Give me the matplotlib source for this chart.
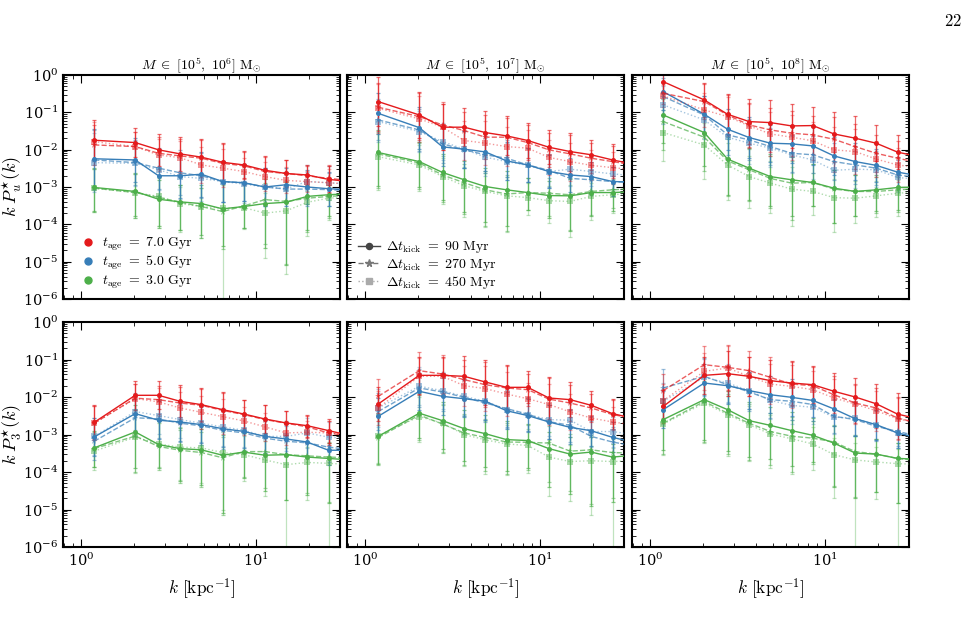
import numpy as np
import matplotlib.pyplot as plt
from matplotlib.lines import Line2D

plt.rcParams['mathtext.fontset'] = 'cm'
plt.rcParams['font.family'] = 'serif'
plt.rcParams['font.serif'] = ['DejaVu Serif']

# wavenumber bins (last one sits just outside the plotted range)
k = [1.19, 2.04, 2.77, 3.68, 4.86, 6.42, 8.48, 11.2, 14.8, 19.5, 25.8, 34.0]

ages = ['7.0', '5.0', '3.0']
kicks = [90, 270, 450]
mass_hi = [6, 7, 8]

# ---- top row: k P_u*(k) ; each colour holds (90, 270, 450 Myr) ----
u6_red = [[0.0179, 0.0155, 0.0099, 0.0077, 0.0063, 0.0046, 0.0039, 0.0028, 0.0023, 0.0021, 0.0016, 0.0014],
          [0.0134, 0.0121, 0.0080, 0.0068, 0.0059, 0.0043, 0.0037, 0.0026, 0.0023, 0.0020, 0.0017, 0.0015],
          [0.0164, 0.0121, 0.0072, 0.0061, 0.0039, 0.0032, 0.0026, 0.0019, 0.0015, 0.0014, 0.0013, 0.0012]]
u6_blue = [[0.0057, 0.0053, 0.0020, 0.0020, 0.0022, 0.0014, 0.0013, 0.0010, 0.00115, 0.0010, 0.0009, 0.00085],
           [0.0053, 0.0045, 0.0032, 0.0024, 0.0020, 0.0014, 0.0013, 0.0010, 0.00088, 0.00088, 0.00085, 0.0008],
           [0.0045, 0.0043, 0.0029, 0.0019, 0.0017, 0.0014, 0.0012, 0.0010, 0.0009, 0.0014, 0.0013, 0.0012]]
u6_green = [[0.00097, 0.00076, 0.00047, 0.0004, 0.00036, 0.00026, 0.0003, 0.00036, 0.00039, 0.00056, 0.00062, 0.00066],
            [0.00093, 0.00071, 0.00053, 0.00039, 0.0003, 0.00022, 0.00031, 0.00046, 0.00041, 0.0005, 0.00056, 0.0006],
            [0.00093, 0.00071, 0.00056, 0.00036, 0.0003, 0.00027, 0.00028, 0.0002, 0.00023, 0.00039, 0.0005, 0.00055]]
u6_err_red = [0.53, 0.38, 0.43, 0.46, 0.49, 0.51, 0.36, 0.39, 0.35, 0.27, 0.36]
u6_err_blue = [0.8, 0.6, 0.55, 0.6, 0.6, 0.55, 0.5, 0.5, 0.45, 0.45, 0.45]
u6_hi_green = [0.52, 0.49, 0.52, 0.45, 0.5, 0.7, 0.62, 0.55, 0.55, 0.31, 0.25]
u6_lo_green = [0.64, 0.67, 0.78, 0.75, 0.83, 1.0, 0.58, 1.19, 1.68, 0.9, 0.58]
u6_drop = [5]

u7_red = [[0.194, 0.085, 0.040, 0.040, 0.0287, 0.0234, 0.0176, 0.0116, 0.0089, 0.0073, 0.0053, 0.0041],
          [0.137, 0.077, 0.046, 0.0325, 0.0216, 0.0216, 0.0155, 0.0099, 0.0077, 0.0059, 0.0048, 0.0039],
          [0.128, 0.067, 0.040, 0.0176, 0.0149, 0.0121, 0.011, 0.0062, 0.0048, 0.0038, 0.0033, 0.0029]]
u7_blue = [[0.094, 0.039, 0.0119, 0.0103, 0.0087, 0.0050, 0.0039, 0.0026, 0.0021, 0.0019, 0.0014, 0.00136],
           [0.0626, 0.0338, 0.0143, 0.0099, 0.0073, 0.0059, 0.0039, 0.0028, 0.0017, 0.00156, 0.0014, 0.0013],
           [0.0565, 0.0305, 0.0165, 0.0103, 0.0063, 0.0048, 0.0038, 0.0026, 0.0030, 0.0026, 0.00225, 0.002]]
u7_green = [[0.0084, 0.0048, 0.00245, 0.00156, 0.00103, 0.00084, 0.00071, 0.00059, 0.00058, 0.00071, 0.00071, 0.00075],
            [0.0077, 0.0044, 0.0021, 0.0013, 0.00084, 0.00065, 0.00071, 0.00068, 0.00062, 0.00076, 0.00084, 0.0009],
            [0.0065, 0.0039, 0.0019, 0.00108, 0.00076, 0.00058, 0.00052, 0.00043, 0.00041, 0.00056, 0.00062, 0.00068]]
u7_err_red = [0.65, 0.62, 0.62, 0.51, 0.59, 0.52, 0.48, 0.46, 0.51, 0.40, 0.43]
u7_err_blue = [0.55, 0.56, 0.5, 0.5, 0.5, 0.5, 0.45, 0.45, 0.45, 0.4, 0.4]
u7_hi_green = [0.6, 0.53, 0.5, 0.5, 0.5, 0.5, 0.4, 0.4, 0.45, 0.35, 0.3]
u7_lo_green = [0.9, 0.69, 0.73, 0.85, 0.96, 0.98, 0.46, 0.6, 0.95, 0.62, 0.5]
u7_drop = []

u8_red = [[0.664, 0.215, 0.0888, 0.0565, 0.0531, 0.0433, 0.0442, 0.0264, 0.0203, 0.0149, 0.0086, 0.0065],
          [0.324, 0.194, 0.085, 0.046, 0.0338, 0.0276, 0.0249, 0.019, 0.0121, 0.008, 0.0059, 0.0045],
          [0.275, 0.116, 0.077, 0.0433, 0.0264, 0.0216, 0.0172, 0.0099, 0.0089, 0.0056, 0.0039, 0.0033]]
u8_blue = [[0.358, 0.0888, 0.0353, 0.0211, 0.0149, 0.0143, 0.0126, 0.0068, 0.0048, 0.0038, 0.0025, 0.002],
           [0.264, 0.085, 0.0249, 0.0183, 0.0121, 0.008, 0.0073, 0.0048, 0.0039, 0.0032, 0.0021, 0.0018],
           [0.158, 0.0626, 0.0216, 0.0149, 0.011, 0.0073, 0.0053, 0.0028, 0.003, 0.0029, 0.0018, 0.0016]]
u8_green = [[0.085, 0.0287, 0.0056, 0.0032, 0.0019, 0.00156, 0.00132, 0.00093, 0.00076, 0.00084, 0.00097, 0.001],
            [0.0565, 0.0216, 0.005, 0.0029, 0.0017, 0.00127, 0.00132, 0.00088, 0.00076, 0.00076, 0.00084, 0.0009],
            [0.0287, 0.0134, 0.0039, 0.0019, 0.00127, 0.00088, 0.00076, 0.00052, 0.0005, 0.00058, 0.00068, 0.00075]]
u8_err_red = [0.3, 0.46, 0.53, 0.6, 0.6, 0.6, 0.51, 0.6, 0.6, 0.49, 0.46]
u8_err_blue = [0.5, 0.5, 0.55, 0.55, 0.5, 0.5, 0.5, 0.5, 0.5, 0.45, 0.4]
u8_hi_green = [0.6, 0.6, 0.6, 0.55, 0.6, 0.6, 0.5, 0.5, 0.45, 0.4, 0.35]
u8_lo_green = [0.75, 0.9, 0.95, 0.85, 0.8, 0.98, 0.64, 0.92, 0.67, 0.58, 0.6]
u8_drop = []

# ---- bottom row: k P_3*(k) ----
s6_red = [[0.00211, 0.0111, 0.0111, 0.00766, 0.00625, 0.0046, 0.00352, 0.00259, 0.00203, 0.00172, 0.00127, 0.00095],
          [0.0020, 0.0093, 0.0085, 0.0069, 0.0060, 0.0044, 0.0034, 0.0025, 0.0020, 0.0016, 0.0011, 0.0009],
          [0.0020, 0.0091, 0.0074, 0.0051, 0.0039, 0.0030, 0.0023, 0.0016, 0.0011, 0.00115, 0.0011, 0.001]]
s6_blue = [[0.00086, 0.0036, 0.0024, 0.00216, 0.00183, 0.00143, 0.00121, 0.00089, 0.00076, 0.00063, 0.00038, 0.00038],
           [0.00066, 0.0028, 0.0026, 0.0020, 0.0017, 0.0013, 0.0011, 0.0008, 0.00066, 0.0006, 0.00046, 0.0004],
           [0.00089, 0.0041, 0.0032, 0.0025, 0.0020, 0.0016, 0.0013, 0.00089, 0.00089, 0.0011, 0.00085, 0.0008]]
s6_green = [[0.00044, 0.00117, 0.00054, 0.00042, 0.00039, 0.00028, 0.00034, 0.00028, 0.00029, 0.00025, 0.00023, 0.00021],
            [0.00042, 0.00091, 0.00048, 0.00038, 0.00033, 0.00024, 0.00035, 0.00035, 0.00029, 0.00027, 0.00025, 0.00024],
            [0.00036, 0.00085, 0.00056, 0.00046, 0.00044, 0.00033, 0.00029, 0.00021, 0.000157, 0.00018, 0.00017, 0.00016]]
s6_err_red = [0.45, 0.39, 0.37, 0.43, 0.44, 0.47, 0.38, 0.38, 0.33, 0.29, 0.32]
s6_err_blue = [0.5, 0.5, 0.5, 0.5, 0.5, 0.5, 0.45, 0.45, 0.4, 0.4, 0.4]
s6_hi_green = [0.45, 0.73, 0.62, 0.55, 0.55, 0.55, 0.5, 0.5, 0.45, 0.4, 0.4]
s6_lo_green = [0.5, 0.96, 0.62, 0.87, 0.93, 1.53, 0.69, 0.96, 1.2, 1.0, 1.2]
s6_drop = [8, 10]

s7_red = [[0.0065, 0.0378, 0.0378, 0.0356, 0.0251, 0.0181, 0.0181, 0.0094, 0.0085, 0.006, 0.0036, 0.0027],
          [0.0104, 0.0504, 0.041, 0.029, 0.0213, 0.0174, 0.0157, 0.0088, 0.0069, 0.0051, 0.0034, 0.0027],
          [0.0051, 0.0356, 0.0356, 0.020, 0.0167, 0.012, 0.009, 0.0063, 0.004, 0.00275, 0.00216, 0.0018]]
s7_blue = [[0.00305, 0.0142, 0.0104, 0.009, 0.0077, 0.0043, 0.0032, 0.00216, 0.00155, 0.00126, 0.00084, 0.00062],
           [0.0041, 0.0174, 0.0136, 0.0098, 0.0069, 0.0049, 0.0035, 0.0022, 0.00175, 0.00089, 0.00063, 0.0005],
           [0.0051, 0.0194, 0.0147, 0.0104, 0.0077, 0.0046, 0.0034, 0.0025, 0.0024, 0.0012, 0.0012, 0.001]]
s7_green = [[0.00089, 0.0037, 0.00234, 0.00143, 0.00105, 0.00073, 0.00069, 0.00042, 0.0003, 0.00034, 0.00025, 0.00028],
            [0.00083, 0.0033, 0.0019, 0.0011, 0.00083, 0.00063, 0.00062, 0.00059, 0.00036, 0.00039, 0.00033, 0.00032],
            [0.00094, 0.003, 0.002, 0.001, 0.00072, 0.00056, 0.00051, 0.00025, 0.00019, 0.0002, 0.00019, 0.0002]]
s7_err_red = [0.45, 0.5, 0.5, 0.53, 0.6, 0.59, 0.43, 0.55, 0.47, 0.37, 0.4]
s7_err_blue = [0.5, 0.5, 0.5, 0.5, 0.5, 0.5, 0.45, 0.45, 0.45, 0.4, 0.4]
s7_hi_green = [0.6, 0.53, 0.5, 0.5, 0.5, 0.5, 0.45, 0.45, 0.45, 0.4, 0.35]
s7_lo_green = [0.74, 0.67, 0.76, 0.85, 0.9, 0.84, 0.73, 1.03, 1.06, 1.45, 1.2]
s7_drop = [10]

s8_red = [[0.0056, 0.0378, 0.0419, 0.0356, 0.0273, 0.0236, 0.0213, 0.0142, 0.01, 0.0066, 0.0035, 0.0026],
          [0.0148, 0.0728, 0.0618, 0.0504, 0.0334, 0.0222, 0.02, 0.0115, 0.0069, 0.0051, 0.00275, 0.002],
          [0.008, 0.0483, 0.0593, 0.0356, 0.0222, 0.0192, 0.0157, 0.0094, 0.0065, 0.0043, 0.00264, 0.002]]
s8_blue = [[0.0046, 0.0236, 0.020, 0.0148, 0.0115, 0.0098, 0.0081, 0.0048, 0.00264, 0.00183, 0.0011, 0.0008],
           [0.0174, 0.0356, 0.0213, 0.0136, 0.0085, 0.0077, 0.0063, 0.00305, 0.0025, 0.00165, 0.00121, 0.0009],
           [0.0077, 0.0334, 0.0236, 0.0148, 0.0081, 0.006, 0.0053, 0.0029, 0.00275, 0.00175, 0.0011, 0.0009]]
s8_green = [[0.0025, 0.0085, 0.0046, 0.00234, 0.00175, 0.00127, 0.00095, 0.00059, 0.00032, 0.0003, 0.00023, 0.00022],
            [0.002, 0.0076, 0.0037, 0.002, 0.0012, 0.0009, 0.0008, 0.00063, 0.00035, 0.0003, 0.00023, 0.0002],
            [0.0019, 0.0069, 0.0034, 0.00183, 0.00103, 0.00077, 0.00056, 0.00029, 0.00021, 0.000185, 0.000167, 0.00016]]
s8_err_red = [0.45, 0.49, 0.6, 0.52, 0.54, 0.58, 0.5, 0.5, 0.52, 0.53, 0.56]
s8_err_blue = [0.5, 0.5, 0.5, 0.5, 0.5, 0.5, 0.45, 0.45, 0.45, 0.4, 0.4]
s8_hi_green = [0.55, 0.5, 0.5, 0.5, 0.5, 0.5, 0.45, 0.45, 0.45, 0.4, 0.4]
s8_lo_green = [0.82, 1.07, 1.1, 0.98, 0.9, 0.95, 0.7, 1.16, 1.2, 1.0, 1.2]
s8_drop = [8, 10]

colors = ['#e41a1c', '#377eb8', '#4daf4a']
styles = ['-', '--', ':']
markers = ['o', '*', 's']
msizes = [3.6, 4.5, 4.2]
alphas = [1.0, 0.7, 0.45]

panels = [
    (u6_red, u6_blue, u6_green, u6_err_red, u6_err_blue, u6_hi_green, u6_lo_green, u6_drop),
    (u7_red, u7_blue, u7_green, u7_err_red, u7_err_blue, u7_hi_green, u7_lo_green, u7_drop),
    (u8_red, u8_blue, u8_green, u8_err_red, u8_err_blue, u8_hi_green, u8_lo_green, u8_drop),
    (s6_red, s6_blue, s6_green, s6_err_red, s6_err_blue, s6_hi_green, s6_lo_green, s6_drop),
    (s7_red, s7_blue, s7_green, s7_err_red, s7_err_blue, s7_hi_green, s7_lo_green, s7_drop),
    (s8_red, s8_blue, s8_green, s8_err_red, s8_err_blue, s8_hi_green, s8_lo_green, s8_drop),
]


def draw(ax, red, blue, green, e_r, e_b, hi_g, lo_g, drop):
    groups = [(green, hi_g, lo_g, colors[2], True),
              (blue, e_b, e_b, colors[1], False),
              (red, e_r, e_r, colors[0], False)]
    for vals3, hi, lo, col, is_green in groups:
        n = len(hi)
        for j in [2, 1, 0]:
            v = np.array(vals3[j])
            vv = v[:n]
            up = vv * (10 ** np.array(hi) - 1)
            dn = vv * (1 - 10 ** -np.array(lo))
            if is_green and j == 2:
                for i in drop:
                    dn[i] = vv[i] - 1e-12
            ax.errorbar(k[:n], vv, yerr=[dn, up], fmt='none', ecolor=col,
                        alpha=0.55 * alphas[j] + 0.1, elinewidth=0.9,
                        capsize=1.6, capthick=0.9, zorder=2)
            ax.plot(k, v, ls=styles[j], marker=markers[j], ms=msizes[j],
                    color=col, alpha=alphas[j], lw=1.0, mew=0, zorder=3)


fig = plt.figure(figsize=(9.72, 6.26), dpi=100)
lefts = [63, 347, 632]
axes = []
for row in range(2):
    for colno in range(3):
        if row == 0:
            y0, y1 = 75, 299
        else:
            y0, y1 = 322, 547
        x0 = lefts[colno]
        ax = fig.add_axes([x0 / 972, 1 - y1 / 626, 277 / 972, (y1 - y0) / 626])
        axes.append(ax)

for idx, ax in enumerate(axes):
    draw(ax, *panels[idx])
    ax.set_xscale('log')
    ax.set_yscale('log')
    ax.set_xlim(0.79, 30)
    ax.set_ylim(1e-6, 1)
    ax.tick_params(which='both', direction='in', top=True, right=True, labelsize=10.5)
    ax.tick_params(which='major', length=6, width=0.8)
    ax.tick_params(which='minor', length=3, width=0.6)
    for s in ax.spines.values():
        s.set_linewidth(1.5)
    if idx < 3:
        ax.set_xticklabels([])
        ax.set_title(r'$M\ \in\ [10^5,\ 10^%d]\ \mathrm{M}_{\odot}$' % mass_hi[idx],
                     fontsize=10, pad=4)
    else:
        ax.set_xlabel(r'$k\ [\mathrm{kpc}^{-1}]$', fontsize=12.5)
        ax.xaxis.set_label_coords(0.5, -0.13)
    if idx % 3 != 0:
        ax.set_yticklabels([])

axes[0].set_ylabel(r'$k\;P_u^{\star}(k)$', fontsize=13)
axes[3].set_ylabel(r'$k\;P_3^{\star}(k)$', fontsize=13)
axes[0].yaxis.set_label_coords(-0.14, 0.5)
axes[3].yaxis.set_label_coords(-0.14, 0.5)

age_handles = [Line2D([], [], ls='none', marker='o', ms=5, color=c) for c in colors]
axes[0].legend(age_handles, [r'$t_{\rm age}\ =\ %s\ \mathrm{Gyr}$' % a for a in ages],
               loc='lower left', frameon=False, fontsize=10, handlelength=1.0,
               handletextpad=0.5, labelspacing=0.1, borderaxespad=0.0,
               bbox_to_anchor=(0.045, 0.01))

grays = ['#444444', '#777777', '#aaaaaa']
kick_handles = [Line2D([], [], ls=styles[j], marker=markers[j], ms=msizes[j] + 0.8,
                       color=grays[j], lw=1.0) for j in range(3)]
axes[1].legend(kick_handles, [r'$\Delta t_{\rm kick}\ =\ %d\ \mathrm{Myr}$' % t for t in kicks],
               loc='lower left', frameon=False, fontsize=10, handlelength=1.6,
               handletextpad=0.4, labelspacing=0.1, borderaxespad=0.0,
               bbox_to_anchor=(0.02, 0.01))

fig.text(0.99, 0.965, r'$22$', ha='right', va='center', fontsize=12)

fig.savefig('out.png', dpi=100)
